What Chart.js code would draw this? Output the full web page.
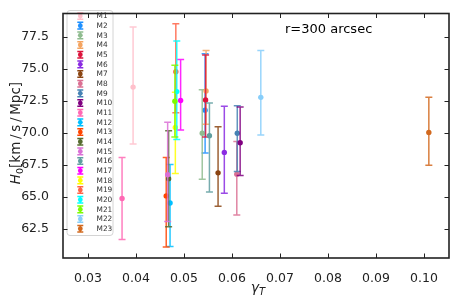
<!DOCTYPE html>
<html>
<head>
<meta charset="utf-8">
<script src="https://cdn.jsdelivr.net/npm/chart.js@4.4.0/dist/chart.umd.min.js"></script>
<style>
  html, body { margin: 0; padding: 0; background: #fff; }
</style>
</head>
<body>
<canvas id="chart" width="457" height="306"></canvas>
<script>
// Lens models and their measured values
const labels = ['M1', 'M2', 'M3', 'M4', 'M5', 'M6', 'M7', 'M8', 'M9', 'M10', 'M11', 'M12',
  'M13', 'M14', 'M15', 'M16', 'M17', 'M18', 'M19', 'M20', 'M21', 'M22', 'M23'];
const gammaT = [0.0394, 0.0544, 0.0538, 0.0546, 0.0545, 0.0584, 0.0571, 0.0610, 0.0611, 0.0617, 0.0371, 0.0471,
  0.0463, 0.0468, 0.0466, 0.0553, 0.0493, 0.0482, 0.0483, 0.0485, 0.0481, 0.0660, 0.1010];
const h0 = [73.6, 71.8, 70.0, 73.3, 72.6, 68.5, 66.9, 66.8, 70.0, 69.25, 64.9, 64.55,
  65.1, 66.45, 66.75, 69.8, 72.55, 70.45, 74.8, 73.25, 72.5, 72.8, 70.05];
const h0Low = [69.15, 68.45, 66.4, 70.7, 69.7, 65.3, 64.3, 63.6, 67.0, 66.7, 61.7, 61.15,
  61.1, 62.7, 63.1, 65.4, 70.25, 66.85, 71.6, 69.5, 69.7, 69.85, 67.5];
const h0High = [78.3, 76.2, 73.4, 76.45, 76.1, 72.1, 70.5, 69.35, 72.15, 72.05, 68.1, 67.55,
  68.1, 70.2, 70.85, 72.35, 75.75, 73.2, 78.55, 77.2, 75.3, 76.45, 72.8];

const xTicks = [0.03, 0.04, 0.05, 0.06, 0.07, 0.08, 0.09, 0.10];
const yTicks = [62.5, 65.0, 67.5, 70.0, 72.5, 75.0, 77.5];

const colors = ['#ffc0cb', '#1e90ff', '#8fbc8f', '#f4a460', '#dc143c', '#8a2be2', '#8b4513', '#db7093',
  '#4682b4', '#800080', '#ff69b4', '#00bfff', '#ff4500', '#556b2f', '#da70d6', '#5f9ea0',
  '#ff00ff', '#ffff00', '#ff6347', '#00ffff', '#7cfc00', '#87cefa', '#d2691e'];

const FONT = '"DejaVu Sans", sans-serif';
const INK = '#222';

// vertical error bar with caps, drawn just before each dataset's point
const errorBars = {
  id: 'errorBars',
  beforeDatasetDraw(chart, args) {
    const i = args.index;
    const xs = chart.scales.x;
    const ys = chart.scales.y;
    const px = xs.getPixelForValue(gammaT[i]);
    const top = ys.getPixelForValue(h0High[i]);
    const bot = ys.getPixelForValue(h0Low[i]);
    const ctx = chart.ctx;
    ctx.save();
    ctx.strokeStyle = colors[i];
    ctx.globalAlpha = 0.85;
    ctx.lineWidth = 1.5;
    ctx.beginPath();
    ctx.moveTo(px, top);
    ctx.lineTo(px, bot);
    ctx.moveTo(px - 3.5, top);
    ctx.lineTo(px + 3.5, top);
    ctx.moveTo(px - 3.5, bot);
    ctx.lineTo(px + 3.5, bot);
    ctx.stroke();
    ctx.restore();
  }
};

// frame, inward ticks, legend box, annotation and axis titles
const decorations = {
  id: 'decorations',
  afterDraw(chart) {
    const ctx = chart.ctx;
    const a = chart.chartArea;
    const xs = chart.scales.x;
    const ys = chart.scales.y;

    // legend
    ctx.save();
    ctx.beginPath();
    ctx.roundRect(67, 10.5, 46, 225, 3);
    ctx.fillStyle = 'rgba(255,255,255,0.8)';
    ctx.fill();
    ctx.strokeStyle = '#d4d4d4';
    ctx.lineWidth = 1;
    ctx.stroke();
    ctx.font = '7.4px ' + FONT;
    ctx.textBaseline = 'middle';
    ctx.textAlign = 'left';
    labels.forEach((name, i) => {
      const cy = 16 + i * 9.67;
      const mx = 80.3;
      ctx.strokeStyle = colors[i];
      ctx.lineWidth = 1.5;
      ctx.beginPath();
      ctx.moveTo(mx, cy - 3.3);
      ctx.lineTo(mx, cy + 3.3);
      ctx.moveTo(mx - 3, cy - 3.3);
      ctx.lineTo(mx + 3, cy - 3.3);
      ctx.moveTo(mx - 3, cy + 3.3);
      ctx.lineTo(mx + 3, cy + 3.3);
      ctx.stroke();
      ctx.fillStyle = colors[i];
      ctx.beginPath();
      ctx.arc(mx, cy, 2.4, 0, Math.PI * 2);
      ctx.fill();
      ctx.fillStyle = '#333';
      ctx.fillText(name, 96.5, cy + 0.5);
    });
    ctx.restore();

    // frame and ticks
    ctx.save();
    ctx.strokeStyle = INK;
    ctx.lineWidth = 1;
    ctx.beginPath();
    xTicks.forEach(v => {
      const px = Math.round(xs.getPixelForValue(v)) + 0.5;
      ctx.moveTo(px, a.bottom);
      ctx.lineTo(px, a.bottom - 4.5);
      ctx.moveTo(px, a.top);
      ctx.lineTo(px, a.top + 4.5);
    });
    yTicks.forEach(v => {
      const py = Math.round(ys.getPixelForValue(v)) + 0.5;
      ctx.moveTo(a.left, py);
      ctx.lineTo(a.left + 4.5, py);
      ctx.moveTo(a.right, py);
      ctx.lineTo(a.right - 4.5, py);
    });
    ctx.stroke();
    ctx.lineWidth = 1.6;
    ctx.strokeRect(a.left, a.top, a.right - a.left, a.bottom - a.top);
    ctx.restore();

    // annotation
    ctx.save();
    ctx.fillStyle = '#000';
    ctx.font = '13px ' + FONT;
    ctx.textBaseline = 'middle';
    ctx.fillText('r=300 arcsec', 285, 30);

    // x title: gamma_T
    ctx.font = 'italic 14px ' + FONT;
    const gW = ctx.measureText('γ').width;
    ctx.font = 'italic 10px ' + FONT;
    const tW = ctx.measureText('T').width;
    let x0 = 258 - (gW + tW) / 2;
    ctx.textBaseline = 'alphabetic';
    ctx.font = 'italic 14px ' + FONT;
    ctx.fillStyle = '#222';
    ctx.fillText('γ', x0, 292);
    ctx.font = 'italic 10px ' + FONT;
    ctx.fillText('T', x0 + gW, 295);

    // y title: H_0[km/s/Mpc]
    ctx.translate(20, 133);
    ctx.rotate(-Math.PI / 2);
    const rest = '[km\u2009/\u2009s\u2009/\u2009Mpc]';
    ctx.font = 'italic 13.5px ' + FONT;
    const hW = ctx.measureText('H').width;
    ctx.font = '9.5px ' + FONT;
    const zW = ctx.measureText('0').width;
    ctx.font = '13.5px ' + FONT;
    const rW = ctx.measureText(rest).width;
    let s = -(hW + zW + rW) / 2;
    ctx.font = 'italic 13.5px ' + FONT;
    ctx.fillText('H', s, 0);
    ctx.font = '9.5px ' + FONT;
    ctx.fillText('0', s + hW, 3);
    ctx.font = '13.5px ' + FONT;
    ctx.fillText(rest, s + hW + zW, 0);
    ctx.restore();
  }
};

const datasets = labels.map((name, i) => ({
  label: name,
  data: [{ x: gammaT[i], y: h0[i] }],
  backgroundColor: colors[i],
  borderWidth: 0,
  pointRadius: 2.7,
  order: -i
}));

new Chart(document.getElementById('chart'), {
  type: 'scatter',
  data: { datasets: datasets },
  options: {
    responsive: false,
    animation: false,
    devicePixelRatio: 1,
    layout: { padding: { top: 8, right: 8, left: 0, bottom: 0 } },
    plugins: {
      legend: { display: false },
      tooltip: { enabled: false }
    },
    scales: {
      x: {
        type: 'linear',
        min: 0.0248,
        max: 0.1052,
        grid: { display: false },
        border: { display: false },
        afterBuildTicks: (scale) => { scale.ticks = xTicks.map(v => ({ value: v })); },
        afterFit: (scale) => { scale.height = 48; },
        ticks: {
          autoSkip: false,
          maxRotation: 0,
          padding: 5,
          color: INK,
          font: { family: FONT, size: 12.5 },
          callback: (v) => Number(v).toFixed(2)
        }
      },
      y: {
        type: 'linear',
        min: 60.25,
        max: 79.35,
        grid: { display: false },
        border: { display: false },
        afterBuildTicks: (scale) => { scale.ticks = yTicks.map(v => ({ value: v })); },
        afterFit: (scale) => { scale.width = 63; },
        ticks: {
          autoSkip: false,
          padding: 6,
          color: INK,
          font: { family: FONT, size: 12.5 },
          callback: (v) => Number(v).toFixed(1)
        }
      }
    }
  },
  plugins: [errorBars, decorations]
});
</script>
</body>
</html>
